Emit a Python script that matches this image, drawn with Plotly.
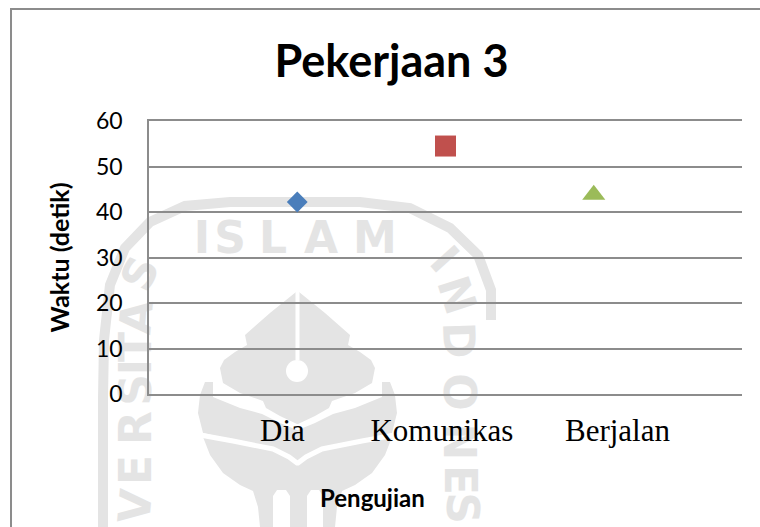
import plotly.graph_objects as go

# Data
categories = ["Dia", "Komunikas", "Berjalan"]
waktu = [42.2, 54.5, 43.8]
series_x = [1, 2, 3]
label_x = [0.90, 1.976, 3.16]
y_ticks = [0, 10, 20, 30, 40, 50, 60]

# Style
symbols = ["diamond", "square", "triangle-up"]
colors = ["#4A7EBB", "#C0504D", "#9BBB59"]
sizes = [16, 21, 20]
W, H = 760, 527
L, R, T, B = 149, 742, 121, 394
GRID = "#8c8c8c"
WM = "#e4e4e4"


def px(x):
    return (x - L) / (R - L)


def py(y):
    return 1 - (y - T) / (B - T)


def path(pts, close=True):
    d = "M " + " L ".join(f"{px(x):.4f},{py(y):.4f}" for x, y in pts)
    return d + (" Z" if close else "")


def mirror(half, cx=297.5):
    return half + [(2 * cx - x, y) for x, y in reversed(half)]


flame = mirror([(296, 292), (270, 313), (245, 335), (247, 345), (235, 352), (224, 360), (220, 368),
                (223, 383), (240, 393), (263, 401), (266, 408), (280, 416), (297, 424)])
crescent1 = mirror([(205, 382), (200, 395), (198, 413), (203, 433), (225, 438), (255, 446), (282, 456), (297, 462)])
crescent2 = mirror([(203, 437), (210, 455), (223, 473), (240, 485), (253, 491), (258, 507), (260, 527), (297, 527)])
halo = mirror([(213, 397), (240, 408), (262, 414), (280, 423), (297, 430)]) + [(382, 370), (213, 370)]
gap = mirror([(200, 435), (233, 441), (273, 449), (289, 457), (297, 463)])

shapes = []


def add_poly(pts, color=WM):
    shapes.append(dict(type="path", path=path(pts), xref="paper", yref="paper", layer="below",
                       fillcolor=color, line=dict(width=0)))


# University emblem watermark behind the plot
ring = [(103, 527), (103, 400), (104, 340), (110, 285), (125, 248), (150, 222), (185, 206), (230, 202),
        (360, 202), (410, 208), (450, 228), (478, 255), (491, 290), (491, 320)]
shapes.append(dict(type="path", path=path(ring, close=False), xref="paper", yref="paper", layer="below",
                   line=dict(color=WM, width=10)))
add_poly(crescent2)
add_poly(crescent1)
shapes.append(dict(type="path", path=path(gap, close=False), xref="paper", yref="paper", layer="below",
                   line=dict(color="#ffffff", width=5)))
for x0, x1 in [(273, 290), (307, 323)]:
    add_poly([(x0, 527), (x0, 496), (x0 + 4, 490), (x1 - 4, 490), (x1, 496), (x1, 527)], "#ffffff")
add_poly(halo, "#ffffff")
add_poly(flame)
add_poly([(295.5, 292), (299.5, 292), (299.5, 360), (295.5, 360)], "#ffffff")
shapes.append(dict(type="circle", xref="paper", yref="paper", layer="below", x0=px(286), x1=px(308),
                   y0=py(382), y1=py(360), fillcolor="#ffffff", line=dict(width=0)))

letters = [("I", 202, 234, 0), ("S", 230, 234, 0), ("L", 273, 234, 0), ("A", 321, 234, 0), ("M", 375, 234, 0),
           ("I", 447, 257, 48), ("N", 460, 294, 72), ("D", 462, 340, 88), ("O", 462, 392, 90), ("N", 462, 442, 90),
           ("E", 463, 480, 90), ("S", 465, 508, 90),
           ("S", 137, 272, -65), ("A", 133, 317, -85), ("T", 132, 347, -90), ("I", 132, 367, -90),
           ("S", 132, 390, -90), ("R", 132, 428, -90), ("E", 132, 470, -90), ("V", 132, 506, -85)]
for ch, x, y, rot in letters:
    shapes.append(dict(type="rect", xref="paper", yref="paper", layer="below",
                       x0=px(x - 30), x1=px(x + 30), y0=py(y + 30), y1=py(y - 30),
                       line=dict(width=0), fillcolor="rgba(0,0,0,0)",
                       label=dict(text=ch, textposition="middle center", textangle=rot,
                                  font=dict(family="DejaVu Sans", size=44, color=WM, weight="bold"))))

# Chart frame: only the top and left edges fall inside the picture
shapes.append(dict(type="path", path=path([(11, H + 5), (11, 9), (W + 5, 9)], close=False), xref="paper", yref="paper",
                   layer="above", line=dict(color="#8c8c8c", width=2)))

fig = go.Figure(go.Scatter(
    x=series_x, y=waktu, mode="markers", showlegend=False,
    marker=dict(symbol=symbols, color=colors, size=sizes, opacity=1, line=dict(width=0)),
))

fig.update_layout(
    width=W, height=H,
    margin=dict(l=L, r=W - R, t=T, b=H - B, pad=0),
    paper_bgcolor="#ffffff", plot_bgcolor="rgba(0,0,0,0)",
    font=dict(family="Lato", color="#000000"),
    title=dict(text="<b>Pekerjaan 3</b>", x=391.5 / W, xanchor="center", y=1 - 61 / H, yanchor="middle",
               font=dict(family="Lato", size=45, color="#000000")),
    shapes=shapes,
    annotations=[dict(text="<b>Pengujian</b>", xref="paper", yref="paper", x=px(372), y=py(497),
                      xanchor="center", yanchor="middle", showarrow=False,
                      font=dict(family="Lato", size=24, color="#000000"))],
    xaxis=dict(range=[0, 4], tickmode="array", tickvals=label_x, ticktext=categories, ticks="",
               showgrid=False, zeroline=False, showline=True, mirror=True, linecolor=GRID, linewidth=1.5,
               ticklabelstandoff=8,
               tickfont=dict(family="Liberation Serif", size=31, color="#000000")),
    yaxis=dict(range=[0, 60], tickmode="array", tickvals=y_ticks, ticks="", showgrid=True, gridcolor=GRID,
               gridwidth=1.5, zeroline=False, showline=True, linecolor=GRID, linewidth=1.5,
               ticklabelstandoff=20,
               tickfont=dict(family="Lato", size=23, color="#000000"),
               title=dict(text="<b>Waktu (detik)</b>", standoff=19,
                          font=dict(family="Lato", size=25, color="#000000"))),
)

fig.write_html("out.html", config=dict(displayModeBar=False),
               post_script="document.body.style.margin='0';")
